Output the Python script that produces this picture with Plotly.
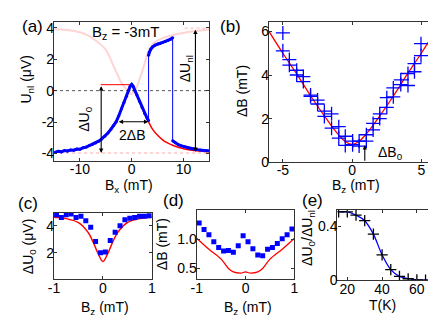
import plotly.graph_objects as go

# ---- panel (a): nonlocal voltage vs Bx at Bz = -3 mT
a_low_x = [-14.8, -14.2, -13.6, -13, -12.4, -11.8, -11.2, -10.6, -10, -9.4, -8.8, -8.2, -7.6, -7, -6.4,
           -5.8, -5.2, -4.6, -4, -3.5, -3, -2.5, -2, -1.5, -1, -0.6, -0.3, 0, 0.3, 0.6, 1, 1.5, 2,
           2.5, 3, 3.25]
a_low_y = [-3.93, -3.86, -3.9, -3.82, -3.85, -3.78, -3.8, -3.72, -3.74, -3.64, -3.6, -3.5, -3.44, -3.34,
           -3.22, -3.08, -2.9, -2.7, -2.45, -2.22, -1.98, -1.6, -1.15, -0.75, -0.35, 0.02, 0.28, 0.4,
           0.26, 0.02, -0.28, -0.68, -1.08, -1.46, -1.78, -1.9]
a_up_x = [3.25, 3.4, 3.7, 4, 4.5, 5, 5.5, 6, 6.5, 7, 7.5, 7.9]
a_up_y = [2.25, 2.45, 2.65, 2.78, 2.9, 2.98, 3.02, 3.08, 3.14, 3.2, 3.28, 3.38]
a_end_x = [7.9, 8.4, 9, 9.6, 10.2, 10.8, 11.4, 12, 12.6, 13.2, 13.8, 14.4, 14.8]
a_end_y = [-3.2, -3.32, -3.45, -3.52, -3.58, -3.64, -3.7, -3.72, -3.76, -3.78, -3.8, -3.82, -3.84]

a_fit_x = [-15, -12, -10, -8, -7, -6, -5, -4, -3, -2.5, -2, -1.5, -1, -0.5, 0, 0.5, 1, 1.5, 2, 2.5, 3,
           4, 5, 6, 7, 8, 10, 12, 15]
a_fit_y = [-3.9, -3.82, -3.72, -3.5, -3.35, -3.15, -2.88, -2.45, -1.98, -1.6, -1.15, -0.75, -0.35, 0.05,
           0.38, 0.05, -0.3, -0.7, -1.1, -1.5, -1.82, -2.45, -2.85, -3.15, -3.35, -3.5, -3.7, -3.82, -3.9]

a_pink_x = [-15, -12, -10, -8, -6.8, -6, -5, -4, -3.7, -3, -2, -1, 0, 0.5, 1, 1.5, 2, 2.5, 3, 3.5, 4,
            5, 6, 8, 10, 12, 15]
a_pink_y = [3.92, 3.85, 3.72, 3.45, 3.15, 2.95, 2.6, 1.95, 1.7, 1.2, 0.5, 0.08, -0.22, 0.0, 0.25, 0.7,
            1.2, 1.75, 2.3, 2.7, 2.95, 3.2, 3.35, 3.55, 3.68, 3.78, 3.9]

# ---- panel (b): Delta B vs Bz
b_x = [-5.0, -5.0, -4.53, -4.53, -4.0, -4.0, -3.52, -3.52, -3.0, -3.0, -2.49, -2.49, -2.0, -2.0,
       -1.48, -1.48, -0.96, -0.96, -0.49, -0.49, 0.04, 0.04, 0.51, 0.51, 1.03, 1.03, 1.52, 1.52,
       2.0, 2.0, 2.51, 2.51, 2.98, 2.98, 3.52, 3.52, 4.04, 4.04, 4.51, 4.51, 4.98, 4.98]
b_y = [5.93, 5.11, 4.71, 4.45, 4.22, 4.0, 3.93, 3.7, 3.08, 3.02, 2.85, 2.67, 2.34, 2.1,
       2.22, 1.56, 1.63, 1.1, 1.19, 0.77, 0.97, 0.8, 0.97, 0.74, 1.26, 0.97, 1.78, 1.48,
       2.22, 2.0, 2.96, 2.52, 3.41, 3.0, 3.78, 3.56, 4.07, 3.52, 4.52, 4.15, 5.44, 4.89]
b_fit_x = [-6, -5, -4, -3, -2, -1.5, -1, -0.5, 0, 0.5, 1, 1.5, 2, 3, 4, 5, 6]
b_fit_y = [6.0, 5.0, 4.05, 3.05, 2.12, 1.68, 1.28, 0.95, 0.82, 0.95, 1.28, 1.68, 2.12, 3.05, 4.05, 5.0, 6.0]

# ---- panel (c): Delta U0 vs Bz
c_x = [-0.95, -0.85, -0.75, -0.65, -0.55, -0.45, -0.35, -0.25, -0.15, -0.05, 0.05, 0.15, 0.25,
       0.35, 0.45, 0.55, 0.65, 0.75, 0.85, 0.95]
c_y = [4.84, 4.64, 4.84, 4.89, 4.64, 4.72, 4.39, 3.9, 2.84, 2.0, 2.05, 2.91, 3.53, 4.02, 4.47,
       4.57, 4.64, 4.72, 4.72, 4.77]
c_fit_x = [-1, -0.75, -0.5, -0.4, -0.3, -0.2, -0.1, 0, 0.1, 0.2, 0.3, 0.4, 0.5, 0.75, 1]
c_fit_y = [4.65, 4.55, 4.25, 3.95, 3.5, 2.8, 1.95, 1.35, 1.95, 2.8, 3.5, 3.95, 4.25, 4.55, 4.65]

# ---- panel (d): Delta B vs Bz
d_x = c_x
d_y = [1.28, 1.17, 1.08, 0.96, 0.86, 0.8, 0.81, 0.78, 0.89, 1.06, 0.96, 0.84, 0.73, 0.72, 0.83,
       0.86, 0.93, 1.01, 1.08, 1.18]
d_fit_x = [-1, -0.75, -0.5, -0.35, -0.25, -0.1, 0, 0.1, 0.25, 0.35, 0.5, 0.75, 1]
d_fit_y = [1.02, 0.83, 0.66, 0.5, 0.44, 0.42, 0.44, 0.42, 0.44, 0.5, 0.66, 0.83, 1.02]

# ---- panel (e): ratio vs temperature
e_T = [15, 20, 25, 30, 35, 40, 45, 50, 55, 60, 65, 70]
e_r = [0.509, 0.509, 0.484, 0.443, 0.343, 0.188, 0.078, 0.027, 0.01, 0.002, 0.0, 0.0]

FONT = "Liberation Sans, Arial, sans-serif"
BLUE = "#0000ff"
RED = "#ff0000"
PINK = "rgba(255,120,120,0.32)"

fig = go.Figure()

# (a)
fig.add_trace(go.Scatter(x=a_pink_x, y=a_pink_y, mode="lines", line=dict(color=PINK, width=2, shape="spline"),
                         xaxis="x", yaxis="y"))
fig.add_trace(go.Scatter(x=[-15, 15], y=[-3.98, -3.98], mode="lines",
                         line=dict(color=PINK, width=2, dash="dot"), xaxis="x", yaxis="y"))
fig.add_trace(go.Scatter(x=[10.2, 15], y=[3.98, 3.98], mode="lines",
                         line=dict(color=PINK, width=2, dash="dot"), xaxis="x", yaxis="y"))
fig.add_trace(go.Scatter(x=[-15, 15], y=[0, 0], mode="lines",
                         line=dict(color="#555", width=1, dash="dot"), xaxis="x", yaxis="y"))
fig.add_trace(go.Scatter(x=[-6, 0], y=[0.38, 0.38], mode="lines",
                         line=dict(color=RED, width=1), xaxis="x", yaxis="y"))
fig.add_trace(go.Scatter(x=a_low_x + a_up_x + a_end_x, y=a_low_y + a_up_y + a_end_y, mode="lines",
                         line=dict(color=BLUE, width=1), xaxis="x", yaxis="y"))
fig.add_trace(go.Scatter(x=a_fit_x, y=a_fit_y, mode="lines", line=dict(color=RED, width=1.5, shape="spline"),
                         xaxis="x", yaxis="y"))
fig.add_trace(go.Scatter(x=a_low_x + [None] + a_up_x + [None] + a_end_x,
                         y=a_low_y + [None] + a_up_y + [None] + a_end_y, mode="lines+markers",
                         line=dict(color=BLUE, width=3), marker=dict(color=BLUE, size=3),
                         xaxis="x", yaxis="y"))

# (b)
fig.add_trace(go.Scatter(x=b_fit_x, y=b_fit_y, mode="lines", line=dict(color=RED, width=1.3, shape="spline"),
                         xaxis="x2", yaxis="y2"))
fig.add_trace(go.Scatter(x=b_x, y=b_y, mode="markers",
                         marker=dict(symbol="cross-thin", size=10, line=dict(color=BLUE, width=1.3)),
                         xaxis="x2", yaxis="y2"))

# (c)
fig.add_trace(go.Scatter(x=c_fit_x, y=c_fit_y, mode="lines", line=dict(color=RED, width=1.5, shape="spline"),
                         xaxis="x3", yaxis="y3"))
fig.add_trace(go.Scatter(x=c_x, y=c_y, mode="markers", marker=dict(symbol="square", size=5, color=BLUE),
                         xaxis="x3", yaxis="y3"))

# (d)
fig.add_trace(go.Scatter(x=d_fit_x, y=d_fit_y, mode="lines", line=dict(color=RED, width=1.3, shape="spline"),
                         xaxis="x4", yaxis="y4"))
fig.add_trace(go.Scatter(x=d_x, y=d_y, mode="markers", marker=dict(symbol="square", size=5, color=BLUE),
                         xaxis="x4", yaxis="y4"))

# (e)
fig.add_trace(go.Scatter(x=e_T, y=e_r, mode="lines", line=dict(color=BLUE, width=1.3, shape="spline"),
                         xaxis="x5", yaxis="y5"))
fig.add_trace(go.Scatter(x=e_T, y=e_r, mode="markers",
                         marker=dict(symbol="cross-thin", size=8, line=dict(color="black", width=1.3)),
                         xaxis="x5", yaxis="y5"))


def ax(domain, rng, anchor, **kw):
    d = dict(domain=domain, range=rng, anchor=anchor, showline=True, mirror="ticks", linecolor="#333",
             linewidth=1.3, ticks="inside", ticklen=3, tickcolor="#333", showgrid=False, zeroline=False,
             tickfont=dict(size=14, color="black"), ticklabelstandoff=-4)
    d.update(kw)
    return d


W, H = 436, 327


def px(x):
    return x / W


def py(y):
    return 1 - y / H


fig.update_layout(
    width=W, height=H, margin=dict(l=0, r=0, t=0, b=0), showlegend=False,
    paper_bgcolor="white", plot_bgcolor="white", font=dict(family=FONT, size=14, color="black"),
    xaxis=ax([px(41), px(200)], [-15, 15], "y", tickvals=[-10, 0, 10], ticktext=["-10", "0", "10"],
             ticklabelstandoff=-5),
    yaxis=ax([py(156), py(12)], [-4.5, 4.4], "x", tickvals=[-4, -2, 0, 2, 4],
             ticktext=["-4", "-2", "0", "2", "4"]),
    xaxis2=ax([px(261), px(431)], [-6, 6], "y2", tickvals=[-5, 0, 5], ticktext=["-5", "0", "5"],
              ticklabelstandoff=-5),
    yaxis2=ax([py(157), py(12)], [0, 6.45], "x2", tickvals=[0, 2, 4, 6]),
    xaxis3=ax([px(41), px(141)], [-1, 1], "y3", tickvals=[-1, 0, 1], ticktext=["-1", "0", "1"]),
    yaxis3=ax([py(278), py(209)], [0, 5], "x3", tickvals=[2, 4]),
    xaxis4=ax([px(187), px(287)], [-1, 1], "y4", tickvals=[-1, 0, 1], ticktext=["-1", "0", "1"]),
    yaxis4=ax([py(278), py(206)], [0.31, 1.51], "x4", tickvals=[0.5, 1.0], ticktext=["0.5", "1.0"]),
    xaxis5=ax([px(331), px(431)], [14.3, 70.5], "y5", tickvals=[20, 40, 60]),
    yaxis5=ax([py(279), py(206)], [-0.003, 0.525], "x5", tickvals=[0, 0.4], ticktext=["0", "0.4"]),
)

ann = []


def label(x, y, text, size=14, angle=0):
    ann.append(dict(x=px(x), y=py(y), xref="paper", yref="paper", text=text, showarrow=False,
                    font=dict(size=size, color="black"), textangle=angle, xanchor="center", yanchor="middle"))


# panel letters
label(19, 17, "(a)", 17)
label(222, 17, "(b)", 17)
label(14, 200, "(c)", 17)
label(163, 197, "(d)", 17)
label(305, 197, "(e)", 17)

# axis titles
label(13, 72, "U<sub>nl</sub> (μV)", 14, -90)
label(118, 182, "B<sub>x</sub> (mT)", 14)
label(234, 84, "ΔB (mT)", 14, -90)
label(350, 182, "B<sub>z</sub> (mT)", 14)
label(15, 244, "ΔU<sub>0</sub> (μV)", 14, -90)
label(93, 307, "B<sub>z</sub> (mT)", 14)
label(151, 242, "ΔB (mT)", 14, -90)
label(240, 307, "B<sub>z</sub> (mT)", 14)
label(301, 235, "ΔU<sub>0</sub>/ΔU<sub>nl</sub>", 14, -90)
label(377, 304, "T(K)", 14)


def darrow(xr, yr, x0, y0, x1, y1):
    ann.append(dict(x=x1, y=y1, ax=x0, ay=y0, xref=xr, yref=yr, axref=xr, ayref=yr, text="",
                    showarrow=True, arrowhead=2, startarrowhead=2, arrowside="end+start", arrowsize=0.8,
                    arrowwidth=1.1, arrowcolor="black", standoff=0, startstandoff=0))


def dlabel(xr, yr, x, y, text, size=14, angle=0):
    ann.append(dict(x=x, y=y, xref=xr, yref=yr, text=text, showarrow=False, textangle=angle,
                    font=dict(size=size, color="black")))


darrow("x", "y", -5.9, 0.38, -5.9, -3.97)
dlabel("x", "y", -9.0, -1.85, "ΔU<sub>0</sub>", 14, -90)
darrow("x", "y", -2.8, -1.98, 3.2, -1.98)
dlabel("x", "y", 0.1, -2.85, "2ΔB", 14)
darrow("x", "y", 12.3, 3.98, 12.3, -3.9)
dlabel("x", "y", 10.4, 1.4, "ΔU<sub>nl</sub>", 14, -90)
dlabel("x", "y", -1.2, 3.7, "B<sub>z</sub> = -3mT", 15)

ann.append(dict(x=0.92, y=0.78, ax=0.92, ay=0, xref="x2", yref="y2", axref="x2", ayref="y2", text="",
                showarrow=True, arrowhead=2, arrowsize=0.8, arrowwidth=1.1, arrowcolor="black", standoff=0))
dlabel("x2", "y2", 2.75, 0.4, "ΔB<sub>0</sub>", 14)

fig.update_layout(annotations=ann)
fig.write_html("out.html")
